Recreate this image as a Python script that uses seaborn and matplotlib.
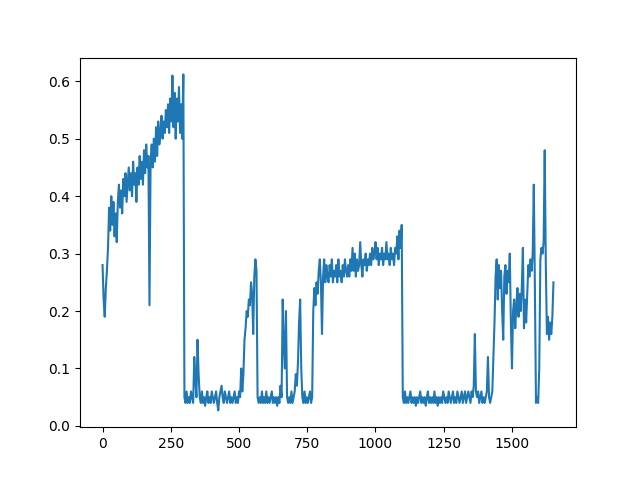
import numpy as np
import matplotlib
matplotlib.use("Agg")
import matplotlib.pyplot as plt
import seaborn as sns

STEP = 4

rise_phase = [
    0.28, 0.22, 0.19, 0.24, 0.27, 0.31, 0.38, 0.34, 0.40, 0.35,
    0.39, 0.33, 0.37, 0.32, 0.39, 0.42, 0.38, 0.41, 0.37, 0.43,
    0.40, 0.44, 0.39, 0.42, 0.45, 0.41, 0.44, 0.40, 0.46, 0.42,
    0.44, 0.39, 0.45, 0.42, 0.47, 0.43, 0.46, 0.42, 0.48, 0.44,
    0.49, 0.45, 0.47, 0.21, 0.46, 0.49, 0.45, 0.50, 0.46, 0.52,
    0.47, 0.53, 0.49, 0.51, 0.54, 0.50, 0.53, 0.51, 0.55, 0.52,
    0.56, 0.51, 0.57, 0.53, 0.61, 0.52, 0.58, 0.50, 0.57, 0.53,
    0.59, 0.51, 0.56, 0.50, 0.612,
]

low_phase_1 = [
    0.05, 0.04, 0.06, 0.04, 0.05, 0.04, 0.06, 0.05, 0.04, 0.12,
    0.08, 0.05, 0.15, 0.09, 0.05, 0.04, 0.06, 0.04, 0.05, 0.035,
    0.05, 0.06, 0.04, 0.05, 0.04, 0.06, 0.05, 0.04, 0.05, 0.06,
    0.04, 0.027, 0.05, 0.06, 0.07, 0.05, 0.04, 0.06, 0.05, 0.04,
    0.05, 0.06, 0.04, 0.05, 0.04, 0.05, 0.06, 0.04, 0.05, 0.04,
    0.06, 0.05,
]

rebound_1 = [
    0.10, 0.06, 0.09, 0.15, 0.17, 0.20, 0.19, 0.22, 0.21, 0.25,
    0.23, 0.16, 0.26, 0.29, 0.27,
]

low_phase_2 = [
    0.05, 0.04, 0.05, 0.04, 0.06, 0.04, 0.05, 0.04, 0.06, 0.04,
    0.05, 0.04, 0.05, 0.06, 0.04, 0.05, 0.04, 0.05, 0.035, 0.05,
    0.04, 0.07, 0.05,
]

spikes_phase = [
    0.22, 0.14, 0.10, 0.20, 0.05, 0.04, 0.05, 0.04, 0.06, 0.04,
    0.05, 0.06, 0.09, 0.07, 0.11, 0.18, 0.22, 0.10, 0.05, 0.04,
    0.06, 0.04, 0.05, 0.04, 0.05, 0.06, 0.04, 0.05,
]

plateau_phase = [
    0.20, 0.24, 0.21, 0.25, 0.23, 0.27, 0.29, 0.25, 0.16, 0.26,
    0.29, 0.25, 0.28, 0.26, 0.25, 0.28, 0.26, 0.29, 0.25, 0.27,
    0.26, 0.28, 0.25, 0.29, 0.26, 0.27, 0.25, 0.28, 0.26, 0.29,
    0.27, 0.26, 0.28, 0.26, 0.29, 0.27, 0.31, 0.27, 0.30, 0.26,
    0.29, 0.27, 0.28, 0.32, 0.28, 0.26, 0.29, 0.28, 0.30, 0.27,
    0.29, 0.28, 0.30, 0.28, 0.31, 0.29, 0.30, 0.32, 0.29, 0.31,
    0.28, 0.30, 0.29, 0.31, 0.28, 0.30, 0.29, 0.32, 0.29, 0.30,
    0.28, 0.31, 0.29, 0.30, 0.28, 0.31, 0.30, 0.33, 0.29, 0.34,
    0.31, 0.35,
]

low_phase_3 = [
    0.05, 0.04, 0.06, 0.04, 0.05, 0.04, 0.05, 0.06, 0.04, 0.05,
    0.04, 0.05, 0.035, 0.05, 0.04, 0.05, 0.06, 0.04, 0.05, 0.04,
    0.05, 0.035, 0.05, 0.06, 0.04, 0.05, 0.04, 0.05, 0.04, 0.06,
    0.04, 0.05, 0.035, 0.05, 0.04, 0.05, 0.04, 0.06, 0.05, 0.04,
    0.05, 0.04, 0.06, 0.05, 0.04, 0.05, 0.06, 0.04, 0.05, 0.04,
    0.06, 0.05, 0.04, 0.05, 0.06, 0.04, 0.05, 0.06, 0.04, 0.05,
    0.06, 0.05, 0.04, 0.06, 0.05, 0.07, 0.16, 0.06, 0.05, 0.06,
    0.04, 0.05, 0.06, 0.04, 0.05, 0.04, 0.05, 0.06, 0.12, 0.05,
    0.04, 0.05, 0.06,
]

volatile_phase = [
    0.12, 0.18, 0.26, 0.29, 0.22, 0.28, 0.24, 0.27, 0.20, 0.15,
    0.26, 0.28, 0.23, 0.27, 0.25, 0.30, 0.18, 0.10, 0.20, 0.22,
    0.17, 0.21, 0.24, 0.19, 0.23, 0.20, 0.24, 0.31, 0.17, 0.22,
    0.18, 0.23, 0.28, 0.26, 0.29, 0.27, 0.30, 0.42, 0.24, 0.04,
    0.05, 0.04, 0.10, 0.29, 0.31, 0.30, 0.32, 0.48, 0.28, 0.16,
    0.19, 0.15, 0.18, 0.16, 0.19, 0.25,
]

values = np.array(rise_phase + low_phase_1 + rebound_1 + low_phase_2
                  + spikes_phase + plateau_phase + low_phase_3 + volatile_phase)
steps = np.arange(len(values)) * STEP

fig, ax = plt.subplots(figsize=(6.4, 4.8), dpi=100)
sns.lineplot(x=steps, y=values, ax=ax, color="#1f77b4", linewidth=1.5, estimator=None)

fig.savefig("out.png", dpi=100)
